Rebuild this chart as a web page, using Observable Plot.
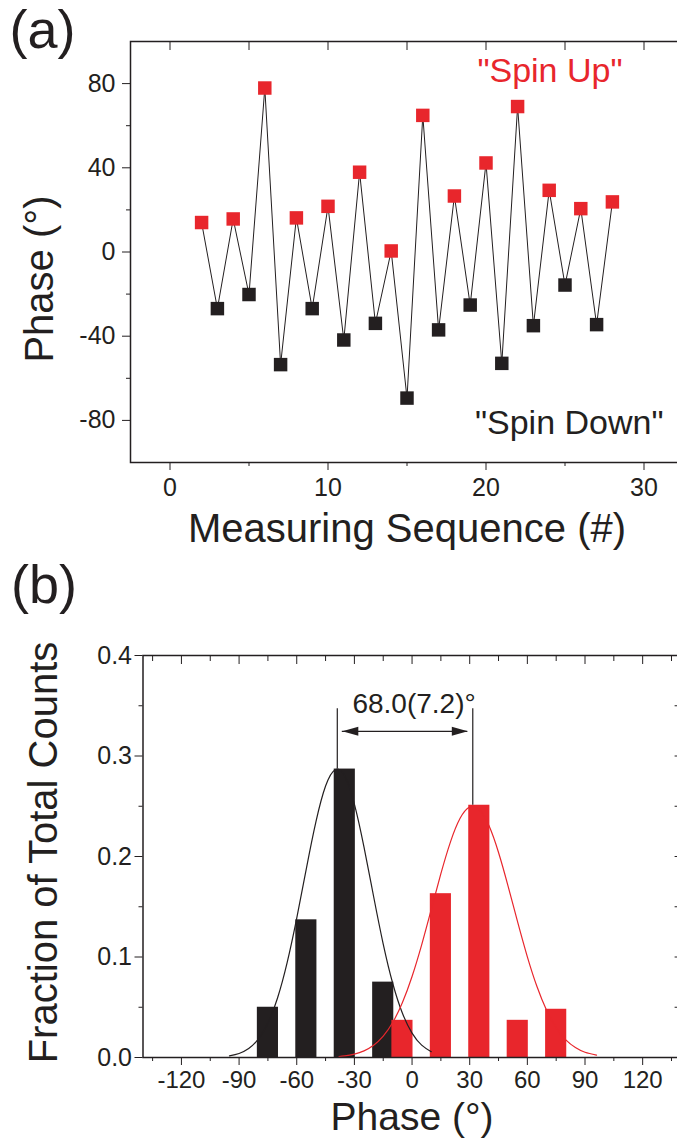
<!DOCTYPE html>
<html><head><meta charset="utf-8">
<script src="https://cdn.jsdelivr.net/npm/d3@7"></script>
<script src="https://cdn.jsdelivr.net/npm/@observablehq/plot@0.6"></script>
<style>
html,body{margin:0;padding:0;background:#fff;}
#chart{width:677px;height:1140px;overflow:hidden;position:relative;}
#chart svg{display:block;}
</style></head><body><div id="chart"></div>
<script>
// ---------- Panel (a) data ----------
const sequence = [2,3,4,5,6,7,8,9,10,11,12,13,14,15,16,17,18,19,20,21,22,23,24,25,26,27,28];
const phase = [14.0,-26.9,15.7,-20.2,77.9,-53.5,16.2,-26.9,21.7,-41.8,37.9,-33.9,0.5,-69.4,64.9,-37.0,26.6,-25.2,42.3,-52.9,69.1,-35.0,29.3,-15.7,20.6,-34.5,23.8];
const seqTicksMajor = [0,10,20,30];
const seqTicksMinor = [5,15,25];
const phaseTicksMajor = [-80,-40,0,40,80];
const phaseTicksMinor = [-60,-20,20,60];
const labelUp = "\"Spin Up\"";
const labelDown = "\"Spin Down\"";

// ---------- Panel (b) data ----------
const downCenters = [-75,-55,-35,-15];
const downFraction = [0.050,0.137,0.287,0.075];
const upCenters = [-5,15,35,55,75];
const upFraction = [0.037,0.163,0.251,0.037,0.048];
const downFitX = [-95,-90,-85,-80,-75,-70,-65,-60,-55,-50,-45,-40,-35,-30,-25,-20,-15,-10,-5,0,5,10];
const downFitY = [0.0017,0.0040,0.0089,0.0182,0.0342,0.0592,0.0944,0.1387,0.1880,0.2347,0.2701,0.2864,0.2800,0.2522,0.2094,0.1602,0.1129,0.0734,0.0440,0.0243,0.0123,0.0058];
const upFitX = [-38,-35,-30,-25,-20,-15,-10,-5,0,5,10,15,20,25,30,35,40,45,50,55,60,65,70,75,80,85,90,96];
const upFitY = [0.0010,0.0016,0.0034,0.0066,0.0122,0.0213,0.0351,0.0547,0.0806,0.1121,0.1473,0.1829,0.2146,0.2380,0.2493,0.2467,0.2308,0.2040,0.1703,0.1344,0.1002,0.0706,0.0470,0.0295,0.0176,0.0099,0.0052,0.0023];
const downPeak = -38.9, downPeakHeight = 0.287;
const upPeak = 31.6, upPeakHeight = 0.251;
const separationLabel = "68.0(7.2)°";
const angleTicksMajor = [-120,-90,-60,-30,0,30,60,90,120];
const angleTicksMinor = [-135,-105,-75,-45,-15,15,45,75,105,135];
const fracTicksMajor = [0,0.1,0.2,0.3,0.4];
const fracTicksMinor = [0.05,0.15,0.25,0.35];

// ---------- styles ----------
const INK = "#231f20";
const RED = "#e8262c";
const FONT = "'Liberation Sans', Arial, Helvetica, sans-serif";
const TICKFONT = 25;
const LABELFONT = 40;

const seqData = sequence.map((s, i) => ({s, phase: phase[i], up: s % 2 === 0}));
const blank = () => "";

const plotA = Plot.plot({
  width: 677, height: 560,
  marginTop: 41, marginBottom: 98, marginLeft: 130, marginRight: -6,
  x: {domain: [-2.5, 32.5]},
  y: {domain: [-100, 100]},
  style: {fontFamily: FONT, fontSize: TICKFONT + "px", color: INK, background: "white", overflow: "visible"},
  marks: [
    Plot.axisX(seqTicksMajor, {anchor: "bottom", tickSize: 8, tickPadding: 8, fontSize: TICKFONT, tickFormat: d => String(d), label: null}),
    Plot.axisX(seqTicksMinor, {anchor: "bottom", tickSize: 4, tickFormat: blank, label: null}),
    Plot.axisX(seqTicksMajor.concat(seqTicksMinor), {anchor: "top", tickSize: -8, tickFormat: blank, label: null}),
    Plot.axisY(phaseTicksMajor, {anchor: "left", tickSize: 8, tickPadding: 7, fontSize: TICKFONT, tickFormat: d => String(d), label: null}),
    Plot.axisY(phaseTicksMinor, {anchor: "left", tickSize: 4, tickFormat: blank, label: null}),
    Plot.axisY(phaseTicksMajor.concat(phaseTicksMinor), {anchor: "right", tickSize: -7, tickFormat: blank, label: null}),
    Plot.frame({stroke: INK, strokeWidth: 1.5}),
    Plot.line(seqData, {x: "s", y: "phase", stroke: INK, strokeWidth: 1}),
    Plot.dot(seqData.filter(d => d.up), {x: "s", y: "phase", symbol: "square", r: 7.6, fill: RED, stroke: "none"}),
    Plot.dot(seqData.filter(d => !d.up), {x: "s", y: "phase", symbol: "square", r: 7.6, fill: INK, stroke: "none"}),
    Plot.text([labelUp], {text: d => d, frameAnchor: "top-right", dx: -61, dy: 40, textAnchor: "end", lineAnchor: "bottom", fill: RED, fontSize: 34}),
    Plot.text([labelDown], {text: d => d, frameAnchor: "bottom-right", dx: -20, dy: -29, textAnchor: "end", lineAnchor: "bottom", fill: INK, fontSize: 34}),
    Plot.text(["(a)"], {text: d => d, frameAnchor: "top-left", dx: -121, dy: 6, textAnchor: "start", lineAnchor: "bottom", fill: INK, fontSize: 54}),
    Plot.text(["Phase (°)"], {text: d => d, frameAnchor: "left", rotate: -90, dx: -78, dy: 27, textAnchor: "middle", lineAnchor: "bottom", fill: INK, fontSize: LABELFONT}),
    Plot.text(["Measuring Sequence (#)"], {text: d => d, frameAnchor: "bottom", dy: 79, textAnchor: "middle", lineAnchor: "bottom", fill: INK, fontSize: LABELFONT})
  ]
});

const downBins = downCenters.map((c, i) => ({c, f: downFraction[i]}));
const upBins = upCenters.map((c, i) => ({c, f: upFraction[i]}));
const downFit = downFitX.map((x, i) => ({x, y: downFitY[i]}));
const upFit = upFitX.map((x, i) => ({x, y: upFitY[i]}));
const barHalf = 5.5;
const lineTop = 0.347;
const arrowY = 0.3246;
const arrowInset = 2.6;
const arrowHead = {draw(ctx) { ctx.moveTo(0, 0); ctx.lineTo(-16, -4.5); ctx.lineTo(-16, 4.5); ctx.closePath(); }};

const plotB = Plot.plot({
  width: 677, height: 580,
  marginTop: 95, marginBottom: 83, marginLeft: 142.5, marginRight: -3.6,
  x: {domain: [-140, 140]},
  y: {domain: [0, 0.4]},
  style: {fontFamily: FONT, fontSize: TICKFONT + "px", color: INK, background: "white", overflow: "visible"},
  marks: [
    Plot.axisX(angleTicksMajor, {anchor: "bottom", tickSize: 8, tickPadding: 5, fontSize: 24, tickFormat: d => String(d), label: null}),
    Plot.axisX(angleTicksMinor, {anchor: "bottom", tickSize: 4, tickFormat: blank, label: null}),
    Plot.axisX(angleTicksMajor, {anchor: "top", tickSize: -8, tickFormat: blank, label: null}),
    Plot.axisX(angleTicksMinor, {anchor: "top", tickSize: -5, tickFormat: blank, label: null}),
    Plot.axisY(fracTicksMajor, {anchor: "left", tickSize: 8, tickPadding: 3, fontSize: TICKFONT, tickFormat: d => d.toFixed(1), label: null}),
    Plot.axisY(fracTicksMinor, {anchor: "left", tickSize: 4, tickFormat: blank, label: null}),
    Plot.axisY(fracTicksMajor.concat(fracTicksMinor), {anchor: "right", tickSize: -7, tickFormat: blank, label: null}),
    Plot.rectY(downBins, {x1: d => d.c - barHalf, x2: d => d.c + barHalf, y: "f", fill: INK}),
    Plot.rectY(upBins, {x1: d => d.c - barHalf, x2: d => d.c + barHalf, y: "f", fill: RED}),
    Plot.line(downFit, {x: "x", y: "y", stroke: INK, strokeWidth: 1.2, curve: "natural"}),
    Plot.line(upFit, {x: "x", y: "y", stroke: RED, strokeWidth: 1.2, curve: "natural"}),
    Plot.frame({stroke: INK, strokeWidth: 1.5}),
    Plot.ruleX([downPeak], {x: d => d, y1: downPeakHeight, y2: lineTop, stroke: INK, strokeWidth: 1.2}),
    Plot.ruleX([upPeak], {x: d => d, y1: upPeakHeight, y2: lineTop, stroke: INK, strokeWidth: 1.2}),
    Plot.ruleY([arrowY], {y: d => d, x1: downPeak + arrowInset, x2: upPeak - arrowInset, stroke: INK, strokeWidth: 1.2}),
    Plot.dot([upPeak - arrowInset], {x: d => d, y: arrowY, symbol: arrowHead, r: 5, fill: INK, stroke: "none"}),
    Plot.dot([downPeak + arrowInset], {x: d => d, y: arrowY, symbol: arrowHead, rotate: 180, r: 5, fill: INK, stroke: "none"}),
    Plot.text([separationLabel], {text: d => d, x: (downPeak + upPeak) / 2, y: 0.3427, dx: 9, textAnchor: "middle", lineAnchor: "bottom", fill: INK, fontSize: 28}),
    Plot.text(["(b)"], {text: d => d, frameAnchor: "top-left", dx: -132, dy: -53, textAnchor: "start", lineAnchor: "bottom", fill: INK, fontSize: 54}),
    Plot.text(["Fraction of Total Counts"], {text: d => d, frameAnchor: "left", rotate: -90, dx: -86, dy: -4, textAnchor: "middle", lineAnchor: "bottom", fill: INK, fontSize: LABELFONT}),
    Plot.text(["Phase (°)"], {text: d => d, frameAnchor: "bottom", dy: 72, textAnchor: "middle", lineAnchor: "bottom", fill: INK, fontSize: 39})
  ]
});

const chart = document.getElementById("chart");
chart.appendChild(plotA);
chart.appendChild(plotB);
</script>
</body></html>
